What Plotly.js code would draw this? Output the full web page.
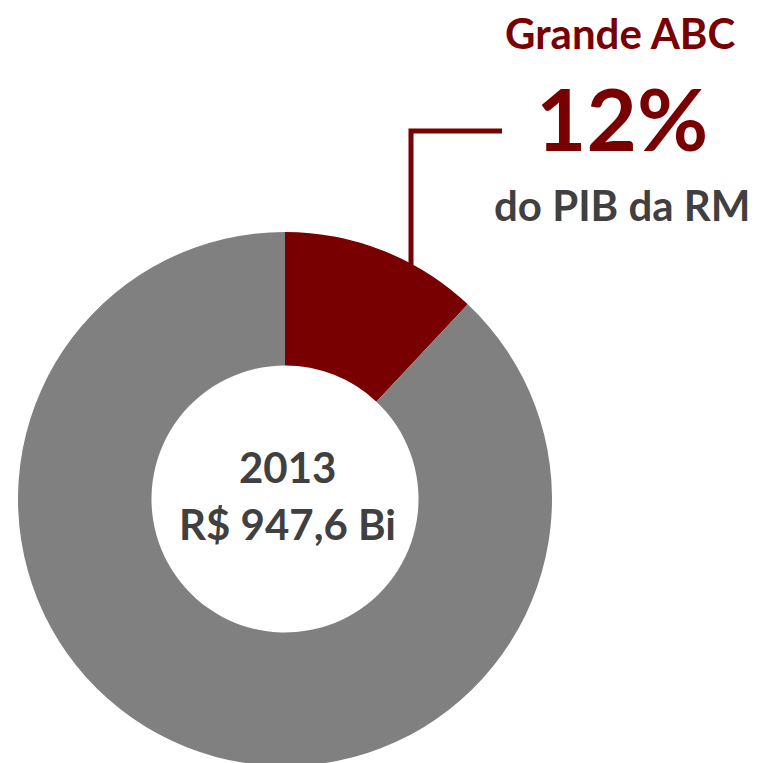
<!DOCTYPE html>
<html>
<head>
<meta charset="utf-8">
<script src="https://cdn.plot.ly/plotly-3.0.1.min.js"></script>
<style>
html,body{margin:0;padding:0;overflow:hidden;background:#fff;width:762px;height:763px;}
#chart{width:762px;height:800px;}
</style>
</head>
<body>
<div id="chart"></div>
<script>
// Data
const labels = ["Grande ABC", "Restante da RM"];
const shares = [12, 88];
const sliceColors = ["#780000", "#808080"];
const centerYear = "2013";
const centerTotal = "R$ 947,6 Bi";
const calloutTitle = "Grande ABC";
const calloutValue = "12%";
const calloutSub = "do PIB da RM";

const W = 762, H = 800;
const px = x => x / W;
const py = y => 1 - y / H;

const FONT = "Lato, 'Open Sans', sans-serif";
const RED = "#780000";
const GRAY_TXT = "#404040";

const trace = {
  type: "pie",
  labels: labels,
  values: shares,
  hole: 0.5,
  sort: false,
  direction: "clockwise",
  rotation: 0,
  marker: {colors: sliceColors, line: {width: 0}},
  textinfo: "none",
  hoverinfo: "skip",
  showlegend: false,
  domain: {x: [px(18), px(552)], y: [py(766), py(232)]}
};

const layout = {
  width: W, height: H,
  margin: {l: 0, r: 0, t: 0, b: 0},
  paper_bgcolor: "#fff",
  plot_bgcolor: "#fff",
  showlegend: false,
  shapes: [{
    type: "path",
    xref: "paper", yref: "paper",
    path: `M ${px(411)},${py(265)} L ${px(411)},${py(131)} L ${px(502)},${py(131)}`,
    line: {color: RED, width: 5}
  }],
  annotations: [
    {text: "<b>" + calloutTitle + "</b>", xref: "paper", yref: "paper", x: px(620), y: py(33), xanchor: "center", yanchor: "middle", showarrow: false, font: {family: FONT, size: 42, color: RED}},
    {text: "<b>" + calloutValue + "</b>", xref: "paper", yref: "paper", x: px(622), y: py(117), xanchor: "center", yanchor: "middle", showarrow: false, font: {family: FONT, size: 87, color: RED}},
    {text: "<b>" + calloutSub + "</b>", xref: "paper", yref: "paper", x: px(622), y: py(205), xanchor: "center", yanchor: "middle", showarrow: false, font: {family: FONT, size: 42, color: GRAY_TXT}},
    {text: "<b>" + centerYear + "</b>", xref: "paper", yref: "paper", x: px(287), y: py(467), xanchor: "center", yanchor: "middle", showarrow: false, font: {family: FONT, size: 42, color: GRAY_TXT}},
    {text: "<b>" + centerTotal + "</b>", xref: "paper", yref: "paper", x: px(287), y: py(524), xanchor: "center", yanchor: "middle", showarrow: false, font: {family: FONT, size: 42, color: GRAY_TXT}}
  ]
};

Plotly.newPlot("chart", [trace], layout, {displayModeBar: false, staticPlot: true});
</script>
</body>
</html>
